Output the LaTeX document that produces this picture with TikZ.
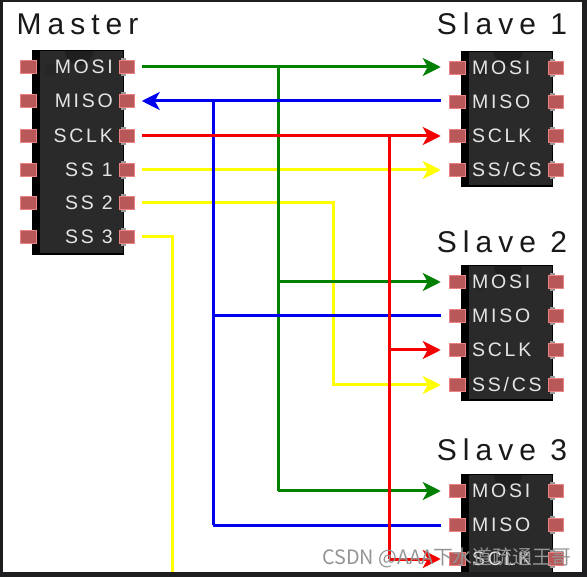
\documentclass[tikz,border=0pt]{standalone}
\usepackage{fontspec}
\setmainfont{Liberation Sans}
\newfontfamily\titlefont[LetterSpace=20]{Liberation Sans}
\newfontfamily\pinfont[LetterSpace=14]{Liberation Sans}
\newfontfamily\markfont{Noto Sans CJK SC}
\usetikzlibrary{arrows.meta}
\definecolor{wgreen}{RGB}{0,128,0}
\definecolor{wblue}{RGB}{0,0,240}
\definecolor{wred}{RGB}{245,0,0}
\definecolor{wyellow}{RGB}{255,255,0}
\definecolor{pinfill}{RGB}{184,88,88}
\definecolor{pinedge}{RGB}{236,130,130}
\definecolor{chipface}{RGB}{42,42,42}
\definecolor{frame}{RGB}{30,30,32}
\tikzset{
  x=1pt,y=-1pt,
  pinbox/.style={draw=pinedge,fill=pinfill,line width=1.2pt,minimum width=15.5pt,minimum height=13pt,inner sep=0pt,outer sep=0pt},
  pinlabel/.style={text=black!10,font=\fontsize{19.5}{19.5}\selectfont\pinfont,inner sep=0pt},
  chiptitle/.style={text=black!90,font=\fontsize{30}{30}\selectfont\titlefont,inner sep=0pt,anchor=base},
  wire/.style={line width=3pt},
  tip/.style={-{Stealth[length=18pt,width=18pt,inset=5pt]},shorten >=9pt},
  start/.style={shorten <=7pt},
}
\newcommand{\chipbody}[3]{% x, top, bottom
  \fill[black] (#1,#2) rectangle (#1+92,#3);
  \fill[chipface] (#1+8,#2+1) rectangle (#1+91,#3-2);
  \fill[black!88] (#1+33,#2+1) arc[start angle=180,end angle=0,radius=14] -- cycle;
  \fill[black!85] (#1+19,#2+20) circle[radius=6];
}
\newcommand{\stub}[2]{\fill[black!40] (#1+89,#2-9) rectangle (#1+94,#2+9);}
\begin{document}
\begin{tikzpicture}
\useasboundingbox (0,0) rectangle (587,577);
\fill[white] (0,0) rectangle (587,577);

% Master chip
\chipbody{32}{50}{255}
\foreach \i/\y/\t in {1/67/MOSI,2/101/MISO,3/136/SCLK,4/170/SS 1,5/203/SS 2,6/237/SS 3}{
  \stub{32}{\y}
  \node[pinbox] (mL\i) at (28.5,\y) {};
  \node[pinbox] (mR\i) at (127,\y) {};
  \node[pinlabel,anchor=east] (mT\i) at (113,\y) {\t};
}
\node[chiptitle] (mtitle) at (77.5,35) {Master};

% Slave 1
\chipbody{461}{51}{187}
\foreach \i/\y/\t in {1/68/MOSI,2/102/MISO,3/136/SCLK,4/170/{SS/CS}}{
  \stub{461}{\y}
  \node[pinbox] (aL\i) at (457.5,\y) {};
  \node[pinbox] (aR\i) at (556,\y) {};
  \node[pinlabel,anchor=west] (aT\i) at (472,\y) {\t};
}
\node[chiptitle] (atitle) at (502,35) {Slave 1};

% Slave 2
\chipbody{461}{265}{401}
\foreach \i/\y/\t in {1/282/MOSI,2/316/MISO,3/350/SCLK,4/385/{SS/CS}}{
  \stub{461}{\y}
  \node[pinbox] (bL\i) at (457.5,\y) {};
  \node[pinbox] (bR\i) at (556,\y) {};
  \node[pinlabel,anchor=west] (bT\i) at (472,\y) {\t};
}
\node[chiptitle] (btitle) at (502,253) {Slave 2};

% Slave 3
\chipbody{461}{474}{580}
\foreach \i/\y/\t in {1/491/MOSI,2/525/MISO,3/559/SCLK}{
  \stub{461}{\y}
  \node[pinbox] (cL\i) at (457.5,\y) {};
  \node[pinbox] (cR\i) at (556,\y) {};
  \node[pinlabel,anchor=west] (cT\i) at (472,\y) {\t};
}
\node[chiptitle] (ctitle) at (502,461) {Slave 3};

% junction coordinates
\coordinate (gtop) at (278,67);
\coordinate (btop) at (213,101);
\coordinate (rtop) at (389,136);
\coordinate (ss2a) at (333,203);
\coordinate (ss3a) at (172,237);
\coordinate (ss3b) at (172,577);

% yellow
\draw[wire,wyellow,start,tip] (mR4.east) -- (aL4.west);
\draw[wire,wyellow,start,tip] (mR5.east) -- (ss2a) |- (bL4.west);
\draw[wire,wyellow,start] (mR6.east) -- (ss3a) -- (ss3b);
% green
\draw[wire,wgreen,start,tip] (mR1.east) -- (mR1.east -| aL1.west);
\draw[wire,wgreen] (gtop) -- (gtop |- cL1);
\draw[wire,wgreen,tip] (gtop |- bL1) -- (bL1.west);
\draw[wire,wgreen,tip] (gtop |- cL1) -- (cL1.west);
% blue
\draw[wire,wblue,shorten >=9pt,shorten <=7pt,{Stealth[length=18pt,width=18pt,inset=5pt]}-] (mR2.east) -- (mR2.east -| aL2.west);
\draw[wire,wblue] (btop) -- (btop |- cL2);
\draw[wire,wblue,shorten >=9pt] (btop |- bL2) -- (bL2.west);
\draw[wire,wblue,shorten >=9pt] (btop |- cL2) -- (cL2.west);
% red
\draw[wire,wred,start,tip] (mR3.east) -- (aL3.west);
\draw[wire,wred] (rtop) -- (rtop |- cL3);
\draw[wire,wred,tip] (rtop |- bL3) -- (bL3.west);
\draw[wire,wred,tip] (rtop |- cL3) -- (cL3.west);

% watermark
\node[text=black!42,font=\fontsize{19.8}{19.8}\selectfont\markfont,inner sep=0pt,anchor=west] (mark) at (322,558) {CSDN @AAA下水道疏通王哥};

% screenshot frame
\fill[frame] (0,0) rectangle (587,2.5);
\fill[frame] (0,0) rectangle (3,577);
\fill[frame] (582,0) rectangle (587,577);
\fill[frame] (0,572) rectangle (587,577);
\end{tikzpicture}
\end{document}
